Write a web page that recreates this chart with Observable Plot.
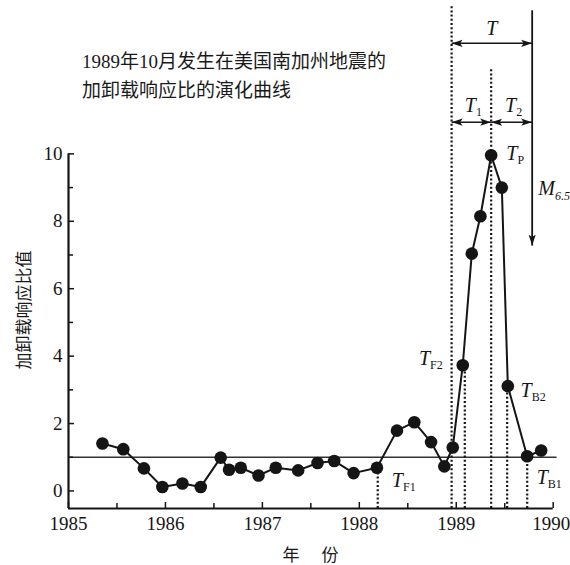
<!DOCTYPE html>
<html><head><meta charset="utf-8">
<script src="https://cdn.jsdelivr.net/npm/d3@7"></script>
<script src="https://cdn.jsdelivr.net/npm/@observablehq/plot@0.6"></script>
<style>
body{margin:0;background:#fff;}
#wrap{position:relative;width:570px;height:565px;overflow:hidden;}
#wrap svg{position:absolute;left:0;top:0;}
.t{position:absolute;font-family:"Liberation Serif","Noto Sans CJK SC",serif;color:#1a1a1a;white-space:nowrap;}
</style></head><body>
<div id="wrap">
  <div class="t" style="left:82px;top:47px;font-size:19px;line-height:29px;">1989年10月发生在美国南加州地震的<br>加卸载响应比的演化曲线</div>
  <div class="t" style="left:22px;top:310px;font-size:17px;font-family:'Noto Sans CJK SC',sans-serif;transform:translate(-50%,-50%) rotate(-90deg);">加卸载响应比值</div>
  <div class="t" style="left:291px;top:553px;font-size:17px;font-family:'Noto Sans CJK SC',sans-serif;transform:translate(-50%,-50%);">年</div>
  <div class="t" style="left:330px;top:553px;font-size:17px;font-family:'Noto Sans CJK SC',sans-serif;transform:translate(-50%,-50%);">份</div>
</div>
<script>
// ---- data ----
const years = [1985.35,1985.565,1985.778,1985.968,1986.175,1986.364,1986.57,1986.656,1986.777,1986.96,1987.138,1987.369,1987.569,1987.741,1987.941,1988.182,1988.388,1988.567,1988.74,1988.877,1988.964,1989.067,1989.16,1989.249,1989.36,1989.47,1989.532,1989.731,1989.876];
const ratios = [1.41,1.24,0.67,0.12,0.22,0.12,0.99,0.63,0.69,0.46,0.69,0.61,0.83,0.89,0.53,0.69,1.79,2.04,1.45,0.73,1.29,3.73,7.04,8.15,9.96,9.0,3.11,1.03,1.2];
const xMajorTicks = [1985,1986,1987,1988,1989,1990];
const xLabelTicks = [1985,1986,1987,1988,1989];
const xLastTick = [1990];
const xMinorTicks = [1985.5,1986.5,1987.5,1988.5,1989.5];
const yMajorTicks = [0,2,4,6,8,10];
const yMinorTicks = [1,3,5,7,9];
const reference = [1];
// key times (years)
const tStart = 1988.952, tF1 = 1988.19, tF2 = 1989.088, tP = 1989.36, tB2 = 1989.525, tB1 = 1989.732, tEq = 1989.783;
// short guides: from the point down to the axis
const guideTimes = [tF1, tF2, tB2, tB1];
const guideTops = [0.69, 3.73, 3.11, 1.03];
// long guides reaching the top annotations
const longGuideTimes = [tStart, tP];
const longGuideTops = [14.4, 12.5];
// annotation levels (ratio units)
const levelT = 13.28, levelT12 = 10.94, eqTop = 14.26, eqBottom = 7.28;

const yMin = -0.52, yTop = 14.55;
const ink = "#151515";
const serif = "Liberation Serif, Times New Roman, serif";

function lab(text, x, y, dx, dy) {
  return Plot.text([text], {x: () => x, y: () => y, text: d => d, dx, dy,
    fontFamily: serif, fontSize: 20, textAnchor: "middle", fill: ink});
}

const plot = Plot.plot({
  width: 570, height: 565,
  marginLeft: 68, marginRight: 17.3, marginTop: 0, marginBottom: 57,
  x: {domain: [1985, 1990]},
  y: {domain: [yMin, yTop]},
  style: {fontFamily: serif, fontSize: "19px", color: ink, background: "transparent", overflow: "visible"},
  marks: [
    // reference level 1
    Plot.ruleY(reference, {x1: 1985, x2: 1990.04, stroke: "#333", strokeWidth: 1.3}),
    // dotted guides
    Plot.ruleX(guideTimes, {x: d => d, y1: yMin, y2: (d, i) => guideTops[i], stroke: ink, strokeWidth: 2.2, strokeDasharray: "2,2.2"}),
    Plot.ruleX(longGuideTimes, {x: d => d, y1: yMin, y2: (d, i) => longGuideTops[i], stroke: ink, strokeWidth: 2.2, strokeDasharray: "2,2.2"}),
    // data
    Plot.line(years, {x: d => d, y: (d, i) => ratios[i], stroke: ink, strokeWidth: 2}),
    Plot.dot(years, {x: d => d, y: (d, i) => ratios[i], r: 6.3, fill: ink, stroke: "none"}),
    // double arrows T, T1, T2
    Plot.link([[tStart, tEq, levelT], [tStart, tP, levelT12], [tP, tEq, levelT12]],
      {x1: d => d[0], x2: d => d[1], y1: d => d[2], y2: d => d[2], stroke: ink, strokeWidth: 1.6}),
    // earthquake arrow
    Plot.link([tEq], {x1: d => d, x2: d => d, y1: eqTop, y2: eqBottom, stroke: ink, strokeWidth: 1.8}),
    // axes lines
    Plot.ruleY([yMin], {x1: 1985, x2: 1990, stroke: ink, strokeWidth: 2.2}),
    Plot.ruleX([1985], {y1: yMin, y2: 10, stroke: ink, strokeWidth: 2.2}),
    // inward ticks
    Plot.ruleX(xMajorTicks, {x: d => d, y1: yMin, y2: yMin, insetBottom: 6, stroke: ink, strokeWidth: 1.5}),
    Plot.ruleX(xMinorTicks, {x: d => d, y1: yMin, y2: yMin, insetBottom: 5, stroke: ink, strokeWidth: 1.5}),
    Plot.ruleY(yMajorTicks, {y: d => d, x1: 1985, x2: 1985, insetRight: -6, stroke: ink, strokeWidth: 1.5}),
    Plot.ruleY(yMinorTicks, {y: d => d, x1: 1985, x2: 1985, insetRight: -5, stroke: ink, strokeWidth: 1.5}),
    Plot.axisX(xLabelTicks, {tickSize: 0, tickPadding: 8, tickFormat: "d", label: null, fontSize: 19, fontFamily: serif, fill: ink}),
    Plot.axisX(xLastTick, {tickSize: 0, tickPadding: 8, tickFormat: "d", label: null, fontSize: 19, fontFamily: serif, fill: ink, dx: -2}),
    Plot.axisY(yMajorTicks, {tickSize: 0, tickPadding: 6, tickFormat: "d", label: null, fontSize: 19, fontFamily: serif, fill: ink}),
    // labels
    lab("T|", (tStart + tEq) / 2, levelT, 0, -15),
    lab("T|1", (tStart + tP) / 2, levelT12, 2, -17),
    lab("T|2", (tP + tEq) / 2, levelT12, 2, -17),
    lab("T|P", tP, 9.96, 24, -2),
    lab("T|F1", tF1, 0.69, 26, 13),
    lab("T|F2", tF2, 3.73, -34, -7),
    lab("T|B2", tB2, 3.11, 26, 4),
    lab("T|B1", tB1, 1.03, 22, 21),
    lab("M|6.5", tEq, 8.96, 22, 0)
  ]
});

document.getElementById("wrap").appendChild(plot);

// arrowhead marker
const svg = d3.select(plot);
svg.insert("defs", ":first-child").append("marker")
  .attr("id", "ah").attr("viewBox", "0 -4 11 8").attr("refX", 11).attr("refY", 0)
  .attr("markerWidth", 11).attr("markerHeight", 8).attr("markerUnits", "userSpaceOnUse")
  .attr("orient", "auto-start-reverse")
  .append("path").attr("d", "M0,-3.6L11,0L0,3.6L2.5,0Z").attr("fill", ink);
const linkGroups = plot.querySelectorAll('g[aria-label="link"]');
d3.select(linkGroups[0]).selectAll("path").attr("marker-start", "url(#ah)").attr("marker-end", "url(#ah)");
d3.select(linkGroups[1]).selectAll("path").attr("marker-end", "url(#ah)");

// italic letters with subscripts
svg.selectAll("text").each(function () {
  const s = this.textContent;
  if (!s.includes("|")) return;
  const [main, sub] = s.split("|");
  const t = d3.select(this);
  t.text(null);
  t.append("tspan").text(main).attr("font-style", "italic");
  if (sub) {
    t.append("tspan").text(sub).attr("font-size", 12).attr("dy", "0.35em")
      .attr("font-style", main === "M" ? "italic" : "normal");
  }
});
</script>
</body></html>
